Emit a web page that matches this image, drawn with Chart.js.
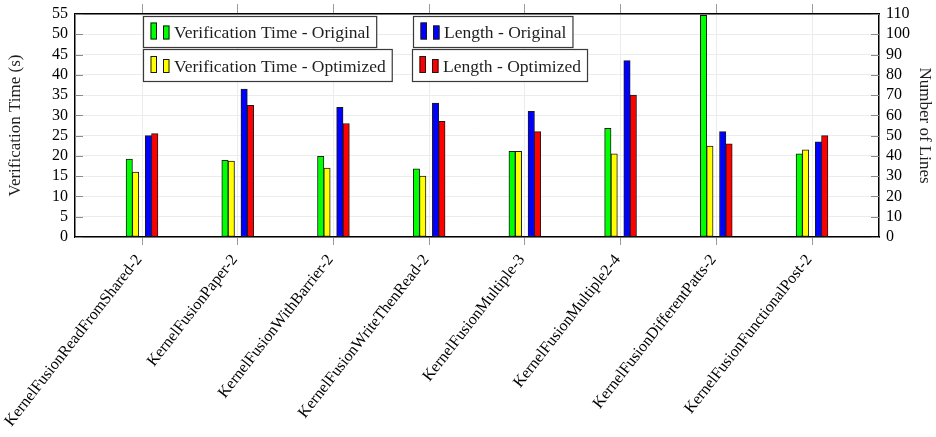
<!DOCTYPE html>
<html>
<head>
<meta charset="utf-8">
<script src="https://cdn.jsdelivr.net/npm/chart.js@4/dist/chart.umd.min.js"></script>
<style>
  html, body { margin: 0; padding: 0; background: #ffffff; }
  canvas { display: block; }
</style>
</head>
<body>
<canvas id="chart" width="936" height="437"></canvas>
<script>
// Benchmarks on the x axis
const benchmarks = [
  'KernelFusionReadFromShared-2',
  'KernelFusionPaper-2',
  'KernelFusionWithBarrier-2',
  'KernelFusionWriteThenRead-2',
  'KernelFusionMultiple-3',
  'KernelFusionMultiple2-4',
  'KernelFusionDifferentPatts-2',
  'KernelFusionFunctionalPost-2'
];

// Verification time in seconds (left axis)
const timeOriginal  = [19.2, 18.9, 19.9, 16.8, 21.1, 26.8, 54.7, 20.5];
const timeOptimized = [16.0, 18.7, 17.0, 15.0, 21.1, 20.5, 22.4, 21.5];

// Program length in lines (right axis)
const linesOriginal  = [50, 73, 64, 66, 62, 87, 52, 47];
const linesOptimized = [51, 65, 56, 57, 52, 70, 46, 50];

// Tick values of both value axes
const timeTicks = [0, 5, 10, 15, 20, 25, 30, 35, 40, 45, 50, 55];
const lineTicks = [0, 10, 20, 30, 40, 50, 60, 70, 80, 90, 100, 110];

const SERIF = '"Liberation Serif", "DejaVu Serif", serif';
Chart.defaults.font.family = SERIF;
Chart.defaults.color = '#000';

// Category axis range: half a slot plus a margin on either side
const X_MIN = -0.7, X_MAX = 7.7;

const toPoints = arr => arr.map((v, i) => ({ x: i, y: v }));
const categoryTicks = scale => { scale.ticks = benchmarks.map((_, i) => ({ value: i })); };
const noSidePadding = scale => { scale.paddingLeft = 0; scale.paddingRight = 0; };

// Each series sits on its own hidden x axis, shifted so that the bars of a
// benchmark form two adjacent pairs left and right of the category tick.
const shiftedAxis = shift => ({
  type: 'linear', display: false, offset: false, grid: { offset: false },
  min: X_MIN + shift, max: X_MAX + shift
});

// Legend drawn as four framed boxes, two per row
const boxLegend = {
  id: 'boxLegend',
  afterDraw(chart) {
    const { ctx } = chart;
    const slots = [
      { ds: 0, x: 143.5, y: 16.5, h: 31 },
      { ds: 1, x: 143.5, y: 49.5, h: 32 },
      { ds: 2, x: 413.5, y: 16.5, h: 31 },
      { ds: 3, x: 412.5, y: 49.5, h: 32 }
    ];
    ctx.save();
    ctx.font = '17.5px ' + SERIF;
    slots.forEach(s => {
      const ds = chart.data.datasets[s.ds];
      const tw = ctx.measureText(ds.label).width;
      const w = tw + 37;
      ctx.fillStyle = '#fff';
      ctx.fillRect(s.x, s.y, w, s.h);
      ctx.strokeStyle = '#3a3a3a';
      ctx.lineWidth = 1.2;
      ctx.strokeRect(s.x, s.y, w, s.h);
      const base = s.y + s.h / 2 + 7.5;
      [[7, 17], [19.5, 14]].forEach(([dx, ih]) => {
        ctx.fillStyle = ds.backgroundColor;
        ctx.fillRect(s.x + dx, base - ih, 6.5, ih);
        ctx.strokeStyle = '#1a1a1a';
        ctx.lineWidth = 1;
        ctx.strokeRect(s.x + dx + 0.5, base - ih + 0.5, 5.5, ih - 1);
      });
      ctx.fillStyle = '#1e1e1e';
      ctx.textBaseline = 'middle';
      ctx.textAlign = 'left';
      ctx.fillText(ds.label, s.x + 30.5, s.y + s.h / 2 + 1.5);
    });
    ctx.restore();
  }
};

// Short tick marks pointing into the plot on both value axes
const innerTicks = {
  id: 'innerTicks',
  afterDatasetsDraw(chart) {
    const { ctx, chartArea } = chart;
    const yL = chart.scales.yL, yR = chart.scales.yR;
    ctx.save();
    ctx.strokeStyle = '#8a8a8a';
    ctx.lineWidth = 1;
    ctx.beginPath();
    yL.ticks.forEach(t => {
      const y = Math.round(yL.getPixelForValue(t.value)) + 0.5;
      ctx.moveTo(chartArea.left, y); ctx.lineTo(chartArea.left + 8, y);
    });
    yR.ticks.forEach(t => {
      const y = Math.round(yR.getPixelForValue(t.value)) + 0.5;
      ctx.moveTo(chartArea.right - 8, y); ctx.lineTo(chartArea.right, y);
    });
    ctx.stroke();
    ctx.restore();
  }
};

const barStyle = { borderColor: '#1a1a1a', borderWidth: 1, barThickness: 6.4, borderSkipped: false, grouped: false };

new Chart(document.getElementById('chart'), {
  type: 'bar',
  data: {
    datasets: [
      { label: 'Verification Time - Original', data: toPoints(timeOriginal), backgroundColor: '#00ff00', xAxisID: 'xTimeOrig', yAxisID: 'yL', ...barStyle },
      { label: 'Verification Time - Optimized', data: toPoints(timeOptimized), backgroundColor: '#ffff00', xAxisID: 'xTimeOpt', yAxisID: 'yL', ...barStyle },
      { label: 'Length - Original', data: toPoints(linesOriginal), backgroundColor: '#0000ff', xAxisID: 'xLinesOrig', yAxisID: 'yR', ...barStyle },
      { label: 'Length - Optimized', data: toPoints(linesOptimized), backgroundColor: '#ff0000', xAxisID: 'xLinesOpt', yAxisID: 'yR', ...barStyle }
    ]
  },
  options: {
    responsive: false,
    animation: false,
    devicePixelRatio: 1,
    layout: { padding: 0 },
    plugins: { legend: { display: false }, tooltip: { enabled: false } },
    scales: {
      x: {
        type: 'linear', position: 'bottom', min: X_MIN, max: X_MAX, offset: false,
        afterBuildTicks: categoryTicks,
        afterFit: s => { s.height = 200; noSidePadding(s); },
        ticks: {
          autoSkip: false, minRotation: 52, maxRotation: 52, padding: 6, labelOffset: -3,
          font: { size: 16 }, color: '#000',
          callback: v => benchmarks[v]
        },
        grid: { offset: false, color: '#ececec', tickColor: '#9a9a9a', tickLength: 8, lineWidth: 1 },
        border: { color: '#000', width: 1.5 }
      },
      xTop: {
        type: 'linear', position: 'top', min: X_MIN, max: X_MAX, offset: false,
        afterBuildTicks: categoryTicks,
        afterFit: s => { s.height = 14; noSidePadding(s); },
        ticks: { display: false, autoSkip: false },
        grid: { offset: false, drawOnChartArea: false, tickColor: '#9a9a9a', tickLength: 10 },
        border: { color: '#000', width: 1.5 }
      },
      xTimeOrig:  shiftedAxis(0.133),
      xTimeOpt:   shiftedAxis(0.067),
      xLinesOrig: shiftedAxis(-0.067),
      xLinesOpt:  shiftedAxis(-0.133),
      yL: {
        type: 'linear', position: 'left', min: 0, max: 55,
        afterBuildTicks: s => { s.ticks = timeTicks.map(v => ({ value: v })); },
        afterFit: s => { s.width = 75; s.paddingTop = 0; s.paddingBottom = 0; },
        ticks: { autoSkip: false, padding: 7, font: { size: 16 }, color: '#000' },
        grid: { color: '#ececec', drawTicks: false },
        border: { color: '#000', width: 1.5 },
        title: { display: true, text: 'Verification Time (s)', font: { size: 17 }, color: '#1e1e1e', padding: { top: 5, bottom: 0 } }
      },
      yR: {
        type: 'linear', position: 'right', min: 0, max: 110,
        afterBuildTicks: s => { s.ticks = lineTicks.map(v => ({ value: v })); },
        afterFit: s => { s.width = 57; s.paddingTop = 0; s.paddingBottom = 0; },
        ticks: { autoSkip: false, padding: 7, font: { size: 16 }, color: '#000' },
        grid: { drawOnChartArea: false, drawTicks: false },
        border: { color: '#000', width: 1.5 },
        title: { display: true, text: 'Number of Lines', font: { size: 17 }, color: '#1e1e1e', padding: { top: 1, bottom: 0 } }
      }
    }
  },
  plugins: [innerTicks, boxLegend]
});
</script>
</body>
</html>
